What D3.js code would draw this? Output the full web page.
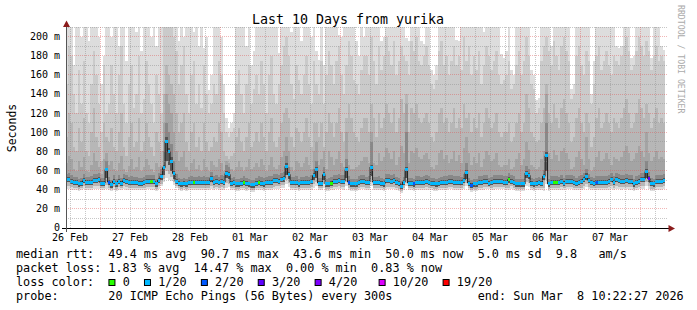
<!DOCTYPE html>
<html><head><meta charset="utf-8">
<script src="https://cdn.jsdelivr.net/npm/d3@7"></script>
<style>
body{margin:0;background:#fff}
svg{display:block}
text{font-family:"DejaVu Sans Mono",monospace;white-space:pre}
</style>
</head><body>
<svg id="c" width="697" height="310"></svg>
<script>
// ---------------- data ----------------
const title = "Last 10 Days from yurika";
const yTicks = [0,20,40,60,80,100,120,140,160,180,200];
const yTickLabels = ["0","20 m","40 m","60 m","80 m","100 m","120 m","140 m","160 m","180 m","200 m"];
const xLabels = ["26 Feb","27 Feb","28 Feb","01 Mar","02 Mar","03 Mar","04 Mar","05 Mar","06 Mar","07 Mar"];
const lossLevels = [0,1,2,3,4,10,19];
const lossLabels = ["0","1/20","2/20","3/20","4/20","10/20","19/20"];
const lossColors = ["#26ff00","#00b8ff","#0059ff","#5e00ff","#7e00ff","#dd00ff","#ff0000"];
const legendLine1 = "median rtt:  49.4 ms avg  90.7 ms max  43.6 ms min  50.0 ms now  5.0 ms sd  9.8   am/s";
const legendLine2 = "packet loss: 1.83 % avg  14.47 % max  0.00 % min  0.83 % now";
const legendLine4 = "probe:       20 ICMP Echo Pings (56 Bytes) every 300s            end: Sun Mar  8 10:22:27 2026";

// hourly bins, first bin starts Feb 26 10:00, last ends Mar 8 10:00
const median = [
51,51,49,48,48,46,47,50,48,48,48,50,50,51,47,47,61,48,45,49,
46,49,47,50,49,48,48,48,48,47,47,48,49,49,49,49,46,50,54,63,
90.7,80,70,57,49,47,46,47,46,48,48,48,48,48,48,48,48,48,52,48,
49,48,49,48,57,56,47,48,46,46,47,48,47,46,45,45,47,48,47,46,
48,48,48,50,50,49,51,52,64.4,56,48,48,48,46,48,48,48,48,49,54.6,
61,47,47,55.7,46,46,47,49,49,50,49,49,61,48,46,46,46,48,49,49,
48,48,63.7,48,48,48,47,46,50,50,49,50,48,47,43.6,48,61,47,47,46,
48,48,48,48,49,48,47,47,46,47,48,48,48,49,49,48,48,48,48,50,
58,47,44.5,46,46,48,48,49,49,47,48,49,49,49,49,48,48,50.5,49,48,
46,46,46,46,57.4,55,47,46,47,48,47,54,75.5,46,48,48,48,48,49,47,
49,49,49,48,47,48,49,51,54,50,48,47,48,48,48,48,48,49,51,48,
51,50,49,49,50,49,49,46,48,49,51,51,59,51.5,47,46,49,49,49,50];

const loss = [
1,1,1,1,1,1,1,1,1,1,1,1,1,1,1,1,1,2,1,1,
1,1,1,1,1,1,1,1,1,1,1,1,1,1,0,1,1,1,1,1,
1,1,1,1,1,1,1,1,1,1,1,0,1,1,1,1,1,1,1,1,
1,1,1,1,1,1,1,1,1,1,1,0,1,1,1,1,1,0,1,1,
1,1,1,1,1,1,1,1,1,1,1,1,1,1,1,1,1,1,1,1,
1,1,1,1,1,1,0,1,1,1,1,1,1,2,1,1,1,1,1,1,
1,1,1,1,1,1,1,1,1,1,1,1,1,1,1,1,1,1,1,2,
1,1,1,1,1,1,1,1,1,1,1,1,1,1,1,1,1,1,1,1,
1,1,2,1,1,1,1,1,1,1,1,1,1,1,1,1,1,0,1,1,
1,1,1,1,1,1,1,1,1,1,1,1,1,1,1,0,0,1,1,1,
1,1,1,1,1,1,1,1,1,1,1,1,2,1,1,1,1,1,1,1,
1,1,1,1,1,1,1,1,1,1,1,1,1,3,1,1,1,1,1,1];

// smoke band upper edges (ms), outer (lightest) to inner (darkest)
const up1 = [
210,210,210,170,210,210,200,210,210,195,210,210,210,200,150,180,210,210,200,210,
210,190,210,210,175,210,210,210,205,210,185,210,210,210,200,210,190,210,210,210,
210,210,210,210,210,195,210,200,210,210,210,205,210,190,210,188,200,144,160,210,
210,210,200,150,115,105,110,120,210,210,210,210,190,210,170,185,210,210,210,210,
210,210,210,210,210,183,210,210,210,210,205,210,210,210,195,210,210,210,200,210,
185,176,210,170,210,210,210,210,210,202,200,210,210,210,210,210,195,180,210,200,
210,210,210,210,210,210,195,200,210,210,210,210,210,210,210,210,198,195,210,210,
210,210,195,192,210,210,165,160,170,210,210,210,210,210,210,210,196,195,210,210,
210,210,210,210,210,210,210,205,210,210,210,210,210,210,182,178,185,210,165,160,
210,210,210,210,210,210,165,160,134,136,210,210,210,210,190,210,210,210,210,210,
210,210,145,150,210,210,210,210,210,210,140,175,210,210,210,210,210,210,210,210,
190,188,190,210,210,210,178,180,210,210,210,210,210,210,178,210,210,210,190,186];
const up2 = [
150,190,180,140,120,165,130,175,120,110,150,185,160,130,100,170,120,130,170,140,
120,160,190,130,110,150,170,125,140,180,120,135,175,150,130,110,160,140,120,210,
210,210,210,200,185,150,170,190,140,120,160,175,130,150,125,170,140,120,130,150,
140,175,160,120,100,95,100,105,150,165,140,120,150,170,130,145,160,140,175,150,
120,160,180,140,130,150,170,190,200,180,150,135,170,155,140,160,180,150,130,175,
150,140,175,130,160,185,170,150,175,190,160,140,170,195,180,155,150,140,165,180,
180,160,200,175,150,190,165,180,200,185,170,195,160,175,190,180,175,160,195,185,
200,175,170,180,190,170,150,145,155,185,195,170,180,160,175,190,170,180,165,200,
175,190,160,180,165,185,150,170,190,180,165,175,185,160,150,155,160,175,145,150,
170,185,160,175,200,180,150,145,120,125,175,190,200,185,170,195,180,165,190,200,
185,175,135,140,180,190,170,160,185,175,130,150,180,190,165,175,185,170,160,180,
175,170,180,190,200,185,165,170,185,200,190,180,195,185,165,180,190,175,180,175];
const up3 = [
95,120,110,85,80,105,90,115,80,75,100,125,95,85,70,110,95,90,105,85,
80,100,120,85,75,95,110,85,90,115,80,90,110,95,85,75,100,90,80,140,
170,160,150,140,120,100,110,120,90,80,100,110,85,95,80,110,90,80,85,95,
90,110,100,80,75,72,75,78,95,105,90,80,95,110,85,90,100,90,110,95,
80,100,115,90,85,95,110,120,125,115,95,85,105,100,90,100,115,95,85,110,
110,95,110,85,100,120,110,95,110,125,100,90,115,130,115,100,95,90,105,115,
115,100,130,115,95,120,105,115,130,120,110,125,100,115,135,120,140,100,125,120,
130,115,110,115,120,110,95,90,100,120,125,110,115,100,110,125,105,115,105,130,
115,120,100,115,105,120,95,110,125,115,105,110,120,100,95,100,100,110,90,95,
110,120,100,110,140,125,100,95,90,92,110,125,150,120,110,130,115,105,125,135,
120,110,90,95,115,125,110,100,120,110,85,95,115,125,105,110,120,110,100,115,
110,105,115,125,135,120,105,110,120,135,125,115,130,120,105,115,125,110,115,110];
const up4 = [
68,75,72,62,60,70,64,74,60,58,66,78,70,64,56,72,78,66,70,62,
60,68,75,62,58,65,72,62,64,74,60,64,72,66,62,58,68,64,65,110,
140,130,120,100,80,70,74,80,64,60,68,72,62,66,60,72,64,60,70,66,
64,72,68,60,70,68,62,60,64,70,64,60,64,72,62,64,68,64,72,66,
60,66,74,64,62,66,74,80,95,80,64,60,70,68,64,68,74,66,62,80,
90,66,72,80,62,80,74,66,72,80,68,64,100,66,62,62,64,66,70,74,
74,68,100,68,66,78,70,74,84,78,72,80,66,74,86,78,130,68,80,78,
84,74,72,76,78,72,64,62,66,78,82,72,76,68,72,80,70,76,68,84,
95,78,66,74,68,78,64,72,80,76,70,72,78,66,64,66,66,72,62,64,
72,78,66,72,90,82,66,64,62,64,72,80,140,78,72,82,76,70,80,84,
78,72,62,64,74,80,72,66,95,72,60,64,74,80,70,72,78,72,66,74,
72,70,74,80,86,78,70,72,78,86,80,74,100,78,70,74,80,72,74,72];
const up5 = [
56,57,55,53,53,51,52,56,53,53,54,56,56,57,52,52,70,53,50,55,
51,55,52,56,55,53,54,53,53,52,52,53,55,55,55,55,51,57,62,80,
110,100,88,70,56,52,51,52,51,53,54,53,53,54,53,54,53,53,58,54,
55,53,55,54,66,64,52,53,51,51,52,54,52,51,50,50,52,54,53,52,
53,54,54,56,56,55,57,59,75,64,53,53,54,51,53,53,54,53,55,62,
70,52,52,64,51,52,53,55,55,56,55,55,72,54,51,51,51,54,55,55,
53,54,90,53,53,54,52,51,56,56,55,56,53,52,49,53,100,52,52,51,
54,54,53,54,55,54,52,52,51,52,53,54,54,55,55,54,54,54,53,56,
68,52,50,51,51,54,54,55,55,52,53,55,55,55,55,54,54,57,55,54,
51,51,51,51,65,62,52,51,52,53,52,61,110,51,54,54,54,53,55,52,
55,55,55,54,52,54,55,57,62,56,53,52,54,54,54,54,54,55,57,54,
57,56,55,55,56,55,55,51,54,55,57,57,70,58,52,51,55,55,55,56];
const up6 = [
53,53,51,50,50,48,49,52,50,50,50,52,52,53,49,49,63,50,47,51,
48,51,49,52,51,50,50,50,50,49,49,50,51,51,51,51,48,52,56,66,
95,84,74,60,51,49,48,49,48,50,50,50,50,50,50,50,50,50,54,50,
51,50,51,50,60,58,49,50,48,48,49,50,49,48,47,47,49,50,49,48,
50,50,50,52,52,51,53,54,68,58,50,50,50,48,50,50,50,50,51,57,
64,49,49,58,48,48,49,51,51,52,51,51,64,50,48,48,48,50,51,51,
50,50,66,50,50,50,49,48,52,52,51,52,50,49,46,50,64,49,49,48,
50,50,50,50,51,50,49,49,48,49,50,50,50,51,51,50,50,50,50,52,
61,49,47,48,48,50,50,51,51,49,50,51,51,51,51,50,50,53,51,50,
48,48,48,48,60,57,49,48,49,50,49,56,79,48,50,50,50,50,51,49,
51,51,51,50,49,50,51,53,57,52,50,49,50,50,50,50,50,51,53,50,
53,52,51,51,52,51,51,48,50,51,53,53,62,54,49,48,51,51,51,52];
// smoke lower edges (ms)
const loA = [
41,41,40,40,40,39,40,41,40,40,40,41,41,41,40,40,41,40,39,40,
39,40,40,41,40,40,40,40,40,40,40,40,41,41,40,40,39,41,44,48,
52,50,49,45,42,40,39,40,39,40,40,40,40,40,40,40,40,40,41,40,
41,40,40,40,42,43,40,40,39,39,40,40,39,40,38,38,40,40,40,39,
40,40,40,41,41,41,42,42,46,43,40,40,40,39,40,40,40,40,40,42,
44,40,40,42,39,39,40,40,41,41,41,40,44,40,39,39,39,40,41,41,
40,40,44,40,40,40,40,39,41,41,41,41,40,39,37,40,44,40,40,39,
40,40,40,40,40,40,40,39,39,40,40,40,40,41,41,40,40,40,40,41,
44,40,38,39,39,40,40,40,41,41,40,40,41,41,41,41,40,40,41,40,
39,39,39,39,44,43,40,39,40,40,40,39,46,39,40,40,40,40,40,40,
41,41,41,40,40,40,40,41,43,41,40,40,40,40,40,40,40,40,41,40,
41,41,40,41,41,40,40,39,40,41,41,41,44,41,39,39,40,40,40,41];
const loB = [
44,44,43,42,42,41,42,44,42,42,42,44,44,44,42,42,45,42,41,43,
41,43,42,44,43,42,42,42,42,42,42,42,43,43,43,43,41,44,46,51,
60,56,53,48,44,42,41,42,41,42,42,42,42,42,42,42,42,42,44,42,
43,42,43,42,47,46,42,42,41,41,42,42,41,42,40,40,42,42,42,41,
42,42,42,43,44,44,45,45,50,47,42,42,42,41,42,42,42,42,43,46,
48,42,42,46,41,41,42,43,43,44,43,43,48,42,41,41,41,42,43,43,
42,42,48,42,42,42,42,41,43,43,43,43,42,41,39,42,47,42,42,41,
42,42,42,42,43,42,42,41,41,42,42,42,42,43,43,42,42,42,42,44,
47,42,40,41,41,42,42,43,43,43,42,43,43,43,43,43,42,42,44,42,
41,41,41,41,48,47,42,41,42,42,42,42,50,41,42,42,42,42,43,42,
43,43,43,42,42,42,42,44,46,43,42,42,42,42,42,42,42,43,44,42,
44,43,43,43,43,43,43,41,42,43,44,44,48,44,41,41,43,43,43,44];
const loC = [
48,48,46,45,45,43,44,47,45,45,45,47,47,48,44,44,52,45,42,46,
43,46,44,47,46,45,45,45,45,44,44,45,46,46,46,46,43,47,50,55,
70,66,60,51,46,44,43,44,43,45,45,45,45,45,45,45,45,45,48,45,
46,45,46,45,52,51,44,45,43,43,44,45,44,43,42,42,44,45,44,43,
45,45,45,47,47,46,48,48,55,51,45,45,45,43,45,45,45,45,46,50,
52,44,44,50,43,43,44,46,46,47,46,46,52,45,43,43,43,45,46,46,
45,45,54,45,45,45,44,43,47,47,46,47,45,44,41,45,52,44,44,43,
45,45,45,45,46,45,44,44,43,44,45,45,45,46,46,45,45,45,45,47,
51,44,42,43,43,45,45,46,46,44,45,46,46,46,46,45,45,47,46,45,
43,43,43,43,52,51,44,43,44,45,44,50,60,43,45,45,45,45,46,44,
46,46,46,45,44,45,46,48,50,47,45,44,45,45,45,45,45,46,48,45,
48,47,46,46,47,46,46,43,45,46,48,48,52,48,44,43,46,46,46,47];

// ---------------- drawing ----------------
const svg = d3.select("#c");
const X0 = 66, X1 = 666, YB = 228, YT = 27;
const endTime = new Date(2026, 2, 8, 10, 22, 27);
const startTime = new Date(endTime.getTime() - 10 * 864e5);
const firstBin = new Date(2026, 1, 26, 10, 0, 0);
const HOUR = 3600e3;
const N = median.length;
const binT = i => new Date(firstBin.getTime() + i * HOUR);

const x = d3.scaleTime().domain([startTime, endTime]).range([X0, X1]);
const y = d3.scaleLinear().domain([0, 210]).range([YB, YT]);
const px = v => Math.floor(v) + 0.5;

svg.append("rect").attr("width", 697).attr("height", 310).attr("fill", "#fff");

const defs = svg.append("defs");
defs.append("clipPath").attr("id", "clip").append("rect")
  .attr("x", X0).attr("y", YT).attr("width", X1 - X0).attr("height", YB - YT);

const plot = svg.append("g").attr("clip-path", "url(#clip)");

// smoke
const bands = [
  {hi: up1, lo: loA, c: "#dddddd"},
  {hi: up2, lo: loB, c: "#cacaca"},
  {hi: up3, lo: loB, c: "#b7b7b7"},
  {hi: up4, lo: loC, c: "#a4a4a4"},
  {hi: up5, lo: loC, c: "#888888"},
  {hi: up6, lo: loC, c: "#555555"}
];
const idx = d3.range(N + 1);
bands.forEach(b => {
  const area = d3.area()
    .x(i => x(binT(i)))
    .y0(i => y(b.lo[Math.min(i, N - 1)]))
    .y1(i => y(b.hi[Math.min(i, N - 1)]))
    .curve(d3.curveStepAfter);
  plot.append("path").attr("d", area(idx)).attr("fill", b.c)
    .attr("shape-rendering", "crispEdges");
});

// grid
const grid = svg.append("g");
const minorCol = "rgba(143,143,143,0.5)", majorCol = "rgba(222,80,80,0.42)";
const hours6 = d3.timeHour.every(6).range(startTime, endTime).filter(t => t.getHours() !== 0);
const days = d3.timeDay.range(startTime, endTime).filter(t => t > startTime);
grid.selectAll("line.vmin").data(hours6).join("line")
  .attr("x1", t => px(x(t))).attr("x2", t => px(x(t)))
  .attr("y1", YT).attr("y2", YB)
  .attr("stroke", minorCol).attr("stroke-dasharray", "1,1");
const minorY = d3.range(10, 211, 10).filter(v => v % 20 !== 0);
grid.selectAll("line.hmin").data(minorY).join("line")
  .attr("x1", X0).attr("x2", X1 + 2)
  .attr("y1", v => px(y(v))).attr("y2", v => px(y(v)))
  .attr("stroke", minorCol).attr("stroke-dasharray", "1,1");
grid.selectAll("line.vmaj").data(days).join("line")
  .attr("x1", t => px(x(t))).attr("x2", t => px(x(t)))
  .attr("y1", YT).attr("y2", YB)
  .attr("stroke", majorCol).attr("stroke-dasharray", "1,1");
grid.selectAll("line.hmaj").data(yTicks.filter(v => v > 0)).join("line")
  .attr("x1", X0).attr("x2", X1 + 2)
  .attr("y1", v => px(y(v))).attr("y2", v => px(y(v)))
  .attr("stroke", majorCol).attr("stroke-dasharray", "1,1");

// median line
const mline = d3.line()
  .x(i => Math.max(X0, x(binT(i))))
  .y(i => y(median[Math.min(i, N - 1)]))
  .curve(d3.curveStepAfter);
plot.append("path").attr("d", mline(idx)).attr("fill", "none")
  .attr("stroke", "#202020").attr("stroke-width", 1);

// loss coloured median boxes
const lossColor = l => {
  let c = lossColors[0];
  lossLevels.forEach((lv, k) => { if (l >= lv) c = lossColors[k]; });
  return c;
};
plot.append("g").selectAll("rect").data(d3.range(N)).join("rect")
  .attr("x", i => x(binT(i)))
  .attr("width", i => x(binT(i + 1)) - x(binT(i)))
  .attr("y", i => y(median[i]) - 1.5)
  .attr("height", 3)
  .attr("fill", i => lossColor(loss[i]))
  .attr("shape-rendering", "crispEdges");

// axes
svg.append("line").attr("x1", 62).attr("x2", 670).attr("y1", YB + 0.5).attr("y2", YB + 0.5)
  .attr("stroke", "#000");
svg.append("line").attr("x1", X0 + 0.5).attr("x2", X0 + 0.5).attr("y1", YB + 4).attr("y2", 24)
  .attr("stroke", "#555");
svg.append("path").attr("d", `M${X0 + 0.5},20.5 L${X0 - 3},27 L${X0 + 4},27 Z`).attr("fill", "#8b1c1c");
svg.append("path").attr("d", `M675,${YB + 0.5} L668.5,${YB - 3} L668.5,${YB + 4} Z`).attr("fill", "#8b1c1c");

// y labels
svg.append("g").selectAll("text").data(yTicks).join("text")
  .attr("x", 60).attr("y", v => y(v) + 3.4)
  .attr("text-anchor", "end").attr("font-size", "10px").attr("fill", "#000")
  .text((v, k) => yTickLabels[k]);

// x labels at noon
const noons = xLabels.map((s, k) => new Date(2026, 1, 26 + k, 12, 0, 0));
svg.append("g").selectAll("text").data(noons).join("text")
  .attr("x", t => x(t)).attr("y", 241)
  .attr("text-anchor", "middle").attr("font-size", "10px").attr("fill", "#000")
  .text((t, k) => xLabels[k]);

// title & axis title
svg.append("text").attr("x", 348).attr("y", 24).attr("text-anchor", "middle")
  .attr("font-size", "13.3px").text(title);
svg.append("text").attr("transform", "translate(15.5,128) rotate(-90)")
  .attr("text-anchor", "middle").attr("font-size", "11.5px").text("Seconds");
svg.append("text").attr("transform", "translate(678,5) rotate(90)")
  .attr("font-size", "8.2px").attr("fill", "#aaaaaa").text("RRDTOOL / TOBI OETIKER");

// legend
const CW = 7.11, LX = 16, FS = "11.8px";
const col = c => LX + c * CW;
svg.append("text").attr("x", LX).attr("y", 258).attr("font-size", FS).text(legendLine1);
svg.append("text").attr("x", LX).attr("y", 272).attr("font-size", FS).text(legendLine2);
svg.append("text").attr("x", LX).attr("y", 286).attr("font-size", FS).text("loss color:");
const boxCols = [13, 18, 26, 34, 42, 51, 60];
boxCols.forEach((c, k) => {
  svg.append("rect").attr("x", col(c) + 0.5).attr("y", 279.5).attr("width", 6).attr("height", 6)
    .attr("fill", lossColors[k]).attr("stroke", "#000").attr("stroke-width", 1);
  svg.append("text").attr("x", col(c + 2)).attr("y", 286).attr("font-size", FS).text(lossLabels[k]);
});
svg.append("text").attr("x", LX).attr("y", 300).attr("font-size", FS).text(legendLine4);
</script>
</body></html>
